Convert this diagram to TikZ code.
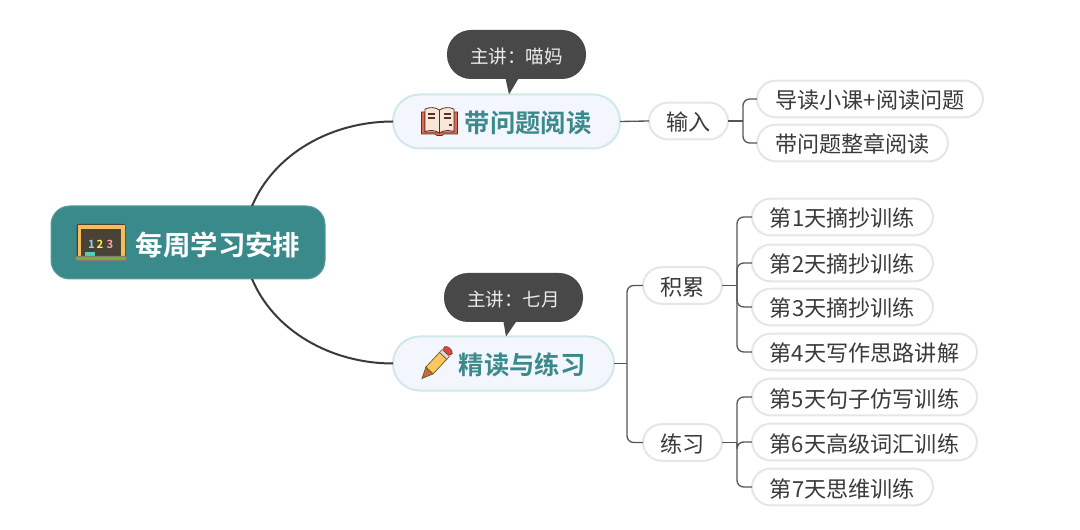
\documentclass[tikz,border=0pt]{standalone}
\usepackage{fontspec}
\setmainfont{Noto Sans CJK SC}[BoldFont={* Bold}]
\definecolor{teal0}{HTML}{3A8A8C}
\definecolor{bubble}{HTML}{484848}
\definecolor{leafline}{HTML}{E6E6E6}
\definecolor{branchline}{HTML}{CFE8EA}
\definecolor{branchfill}{HTML}{F4F6FE}
\definecolor{ink}{HTML}{3A3A3A}
\definecolor{wire}{HTML}{555555}
\tikzset{
  rootbox/.style={fill=teal0,draw=teal0!85,line width=.75pt,rounded corners=14pt,inner sep=0,outer sep=0,minimum width=205.5pt,minimum height=54.75pt},
  branchbox/.style={fill=branchfill,draw=branchline,line width=1.5pt,rounded corners=20pt,inner sep=0,outer sep=0,minimum height=40.5pt},
  leafbox/.style={fill=white,draw=leafline,line width=1.5pt,rounded corners=14pt,inner sep=0,outer sep=0,minimum height=27.5pt,text=ink,text height=17pt,text depth=2pt,font=\fontsize{16.6pt}{18pt}\selectfont},
  talkbox/.style={fill=bubble,rounded corners=18pt,inner sep=0,outer sep=0,minimum width=104.25pt,minimum height=36.75pt,text=white!92!black,text height=16pt,text depth=2pt,font=\fontsize{13.9pt}{16pt}\selectfont},
  bigwire/.style={draw=ink,line width=1.5pt},
  thinwire/.style={draw=wire,line width=1pt},
  bendwire/.style={thinwire,rounded corners=5pt},
  titletext/.style={text=teal0,font=\fontsize{19pt}{22pt}\selectfont\bfseries,inner sep=0},
}
\begin{document}
\begin{tikzpicture}[x=0.75pt,y=-0.75pt]
\useasboundingbox (0,0) rectangle (1080,530);
\fill[white] (0,0) rectangle (1080,530);

% nodes
\node[rootbox] (root) at (188,242.5) {};
\node[branchbox,minimum width=170.25pt] (read) at (506.5,121.5) {};
\node[branchbox,minimum width=165.75pt] (deep) at (503.5,363.5) {};

\node[text=white,font=\fontsize{20.6pt}{24pt}\selectfont\bfseries,inner sep=0] (rootlabel) at (218,245) {每周学习安排};
\node[titletext] (readlabel) at (528,122.5) {带问题阅读};
\node[titletext] (deeplabel) at (522,364.5) {精读与练习};

\node[leafbox,minimum width=59.25pt] (input) at (688.5,121) {输入};
\node[leafbox,minimum width=59.25pt] (accum) at (682.5,285.5) {积累};
\node[leafbox,minimum width=59.25pt] (prac) at (682.5,442.5) {练习};

\node[leafbox,minimum width=169.5pt] (a1) at (870,99) {导读小课+阅读问题};
\node[leafbox,minimum width=143.25pt] (a2) at (852.5,143) {带问题整章阅读};
\node[leafbox,minimum width=135.75pt] (d1) at (842.5,217) {第1天摘抄训练};
\node[leafbox,minimum width=135.75pt] (d2) at (842.5,263) {第2天摘抄训练};
\node[leafbox,minimum width=135.75pt] (d3) at (842.5,307) {第3天摘抄训练};
\node[leafbox,minimum width=168.75pt] (d4) at (864.5,352) {第4天写作思路讲解};
\node[leafbox,minimum width=168.75pt] (d5) at (864.5,397) {第5天句子仿写训练};
\node[leafbox,minimum width=168.75pt] (d6) at (864.5,442) {第6天高级词汇训练};
\node[leafbox,minimum width=135.75pt] (d7) at (842.5,487) {第7天思维训练};

% root curves
\coordinate (rootup) at (252,206);
\coordinate (rootdown) at (252,279);
\draw[bigwire] (rootup) .. controls +(22,-52) and +(-62,0) .. (read.west);
\draw[bigwire] (rootdown) .. controls +(22,52) and +(-62,0) .. (deep.west);

% upper branch
\draw[thinwire] (read.east) -- (input.west);
\coordinate (spinea) at ([xshift=11.25pt]input.east);
\draw[thinwire] (input.east) -- (spinea);
\draw[bendwire] (spinea) |- (a1.west);
\draw[bendwire] (spinea) |- (a2.west);

% lower branch
\coordinate (spineb) at ([xshift=9.75pt]deep.east);
\draw[thinwire] (deep.east) -- (spineb);
\draw[bendwire] (spineb) |- (accum.west);
\draw[bendwire] (spineb) |- (prac.west);
\coordinate (spinec) at ([xshift=11.25pt]accum.east);
\draw[thinwire] (accum.east) -- (spinec);
\foreach \n in {d1,d2,d3,d4} \draw[bendwire] (spinec) |- (\n.west);
\coordinate (spined) at ([xshift=11.25pt]prac.east);
\draw[thinwire] (prac.east) -- (spined);
\foreach \n in {d5,d6,d7} \draw[bendwire] (spined) |- (\n.west);

% speech bubbles
\fill[bubble] (505,76) -- (520,76) -- (509,94.5) -- cycle;
\node[talkbox] (talka) at (516.5,54.5) {主讲：喵妈};
\fill[bubble] (503,319) -- (518,319) -- (506,336.5) -- cycle;
\node[talkbox] (talkb) at (513.5,297.5) {主讲：七月};

% blackboard icon
\begin{scope}
\definecolor{frameo}{HTML}{F5BE5A}
\definecolor{boardd}{HTML}{4A4236}
\definecolor{ledge}{HTML}{82A83E}
\definecolor{eraser}{HTML}{4FD0B8}
\fill[boardd,rounded corners=1pt] (76.5,224) rectangle (125.5,258);
\fill[frameo] (77.5,225) rectangle (124.5,258);
\fill[boardd] (81,229) rectangle (121,256);
\fill[eraser] (85,252) rectangle (95,256.5);
\fill[boardd!70,rounded corners=1.5pt] (75,256) rectangle (127,261);
\fill[ledge,rounded corners=1pt] (76,257) rectangle (126,260);
\node[inner sep=0,text=cyan!45!white,font=\fontsize{8.5pt}{9pt}\selectfont\bfseries] (n1) at (91.5,244) {1};
\node[inner sep=0,text=yellow!70!white,font=\fontsize{8.5pt}{9pt}\selectfont\bfseries] (n2) at (100,244) {2};
\node[inner sep=0,text=red!35!white,font=\fontsize{8.5pt}{9pt}\selectfont\bfseries] (n3) at (110,244) {3};
\end{scope}

% book icon
\begin{scope}
\definecolor{bookred}{HTML}{E2694C}
\definecolor{bookpage}{HTML}{F7E7D6}
\definecolor{bookline}{HTML}{5A3028}
\draw[bookline,fill=bookred,line width=.5pt] (421.5,112) -- (425,112) -- (425,132) -- (454,132) -- (454,112) -- (457.5,112) -- (457.5,134) -- (444,134) -- (442,135.5) -- (437,135.5) -- (435,134) -- (421.5,134) -- cycle;
\draw[bookline,fill=bookpage,line width=.6pt] (425,109) .. controls (430,107) and (435,107) .. (439.5,110) -- (439.5,133) .. controls (435,130) and (430,130) .. (425,131.5) -- cycle;
\draw[bookline,fill=bookpage,line width=.6pt] (439.5,110) .. controls (444,107) and (449,107) .. (454,109) -- (454,131.5) .. controls (449,130) and (444,130) .. (439.5,133) -- cycle;
\draw[bookline,line width=1.1pt] (428,114) -- (435,114) (428,118) -- (435,118) (444,114) -- (451,114) (444,118) -- (451,118) (449,125) -- (451.5,125);
\end{scope}

% pencil icon
\begin{scope}[shift={(422,378.5)},rotate=47]
\definecolor{pencilline}{HTML}{7A4A1E}
\definecolor{pencilbody}{HTML}{F5C860}
\definecolor{pencilwood}{HTML}{B8743C}
\definecolor{pencilrub}{HTML}{E2404F}
\draw[pencilline,fill=pencilwood,line width=.5pt] (0,0) -- (11,-5) -- (11,5) -- cycle;
\draw[pencilline,fill=pencilbody,line width=.5pt] (11,-5) -- (31,-5) -- (31,5) -- (11,5) -- cycle;
\draw[pencilline,fill=black!15,line width=.4pt] (31,-5) rectangle (35,5);
\draw[pencilline,fill=pencilrub,line width=.4pt,rounded corners=2.5pt] (35,-5) -- (41,-5) -- (41,5) -- (35,5) -- cycle;
\end{scope}
\end{tikzpicture}
\end{document}
